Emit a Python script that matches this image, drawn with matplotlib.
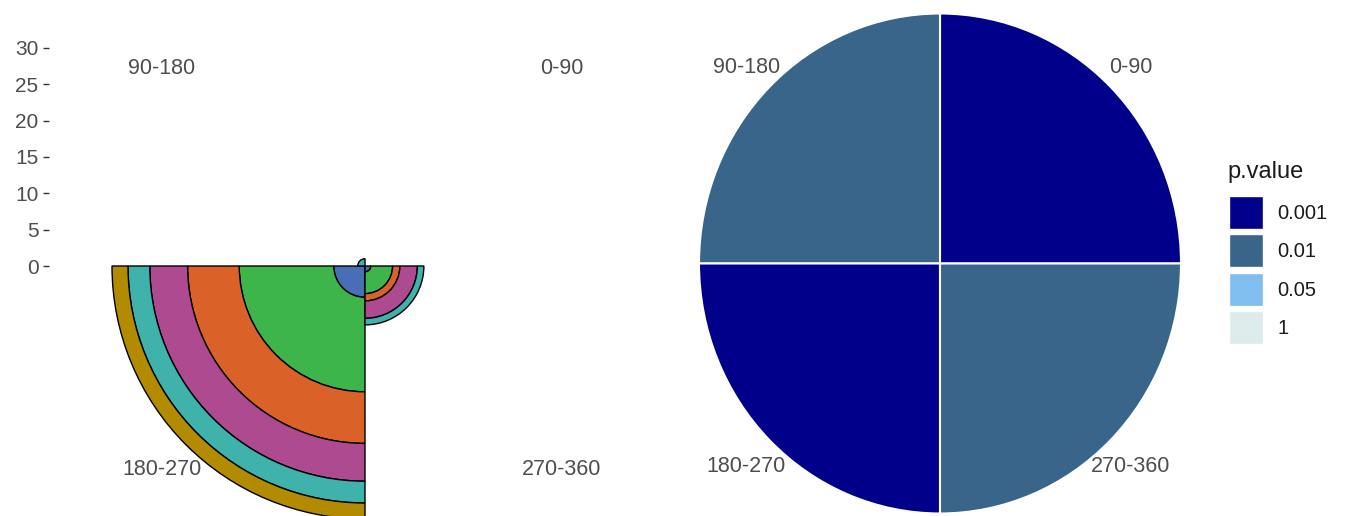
import numpy as np
import matplotlib.pyplot as plt
from matplotlib.patches import Wedge, Rectangle

plt.rcParams['font.family'] = ['Liberation Sans', 'DejaVu Sans']

# angular bins (counter-clockwise from east)
sectors = ["0-90", "90-180", "180-270", "270-360"]

# stacked radial counts per sector, innermost layer first
blue = [0, 0, 4.3, 0.8]
green = [0, 0, 13.0, 3.0]
orange = [0, 0, 7.1, 1.0]
magenta = [0, 0, 5.2, 2.4]
teal = [0, 1.0, 3.0, 0.9]
gold = [0, 0, 2.2, 0]
layers = [blue, green, orange, magenta, teal, gold]
layer_colors = ['#4A6EB5', '#3DB54A', '#DA6229', '#AE4A8F', '#3FB2AC', '#B38B00']

# significance class of each sector
sector_pvalue = ["0.001", "0.01", "0.001", "0.01"]
pvalue_levels = ["0.001", "0.01", "0.05", "1"]
pvalue_colors = ['#00008B', '#386589', '#7FBEEE', '#DEEBEB']

W, H = 1349, 516
TEXT = '#4D4D4D'


def add_px_axes(fig, x0, x1, y0, y1):
    # pixel box measured from the top-left corner
    return fig.add_axes([x0 / W, 1 - y1 / H, (x1 - x0) / W, (y1 - y0) / H])


fig = plt.figure(figsize=(W / 100, H / 100), dpi=100)

# ---- left: stacked polar bars ----
ax = add_px_axes(fig, 49, 681, 0, 516)
scale = 7.27  # px per count
cx, cy = 365, 266
ax.set_xlim((49 - cx) / scale, (681 - cx) / scale)
ax.set_ylim(-(H - cy) / scale, cy / scale)

bottom = np.zeros(len(sectors))
for vals, col in zip(layers, layer_colors):
    vals = np.array(vals, dtype=float)
    for i, v in enumerate(vals):
        if v <= 0:
            continue
        top = bottom[i] + v
        ax.add_patch(Wedge((0, 0), top, 90 * i, 90 * (i + 1), width=v,
                           facecolor=col, edgecolor='black', linewidth=1.0))
    bottom += vals

ax.set_yticks(range(0, 31, 5))
ax.set_xticks([])
for s in ax.spines.values():
    s.set_visible(False)
ax.tick_params(axis='y', length=4.5, width=1.0, color='#333333',
               labelcolor=TEXT, labelsize=15, pad=3)

r_lab = 283 / scale
for i, lab in enumerate(sectors):
    a = np.deg2rad(45 + 90 * i)
    ax.text(r_lab * np.cos(a) - 0.45, r_lab * np.sin(a) - 0.4, lab,
            ha='center', va='center', fontsize=15.5, color=TEXT, clip_on=False)

# ---- right: sectors coloured by p-value ----
ax2 = add_px_axes(fig, 690, 1190, 0, 516)
sx, sy = 241, 250
px, py = 940, 263.5
ax2.set_xlim((690 - px) / sx, (1190 - px) / sx)
ax2.set_ylim(-(H - py) / sy, py / sy)
ax2.axis('off')

pcol = dict(zip(pvalue_levels, pvalue_colors))
for i, p in enumerate(sector_pvalue):
    ax2.add_patch(Wedge((0, 0), 1.0, 90 * i, 90 * (i + 1),
                        facecolor=pcol[p], edgecolor='white', linewidth=1.5))

for i, lab in enumerate(sectors):
    a = np.deg2rad(45 + 90 * i)
    ax2.text(1.128 * np.cos(a) - 0.006, 1.128 * np.sin(a) - 0.014, lab,
             ha='center', va='center', fontsize=15.5, color=TEXT, clip_on=False)

# ---- legend, laid out in pixel space ----
lg = add_px_axes(fig, 1200, W, 0, H)
lg.set_xlim(1200, W)
lg.set_ylim(H, 0)
lg.axis('off')
lg.text(1227, 172, 'p.value', fontsize=17, color='#1A1A1A', ha='left', va='center')
key_top, key_w, key_h, key_step = 196, 34, 33, 38.3
for k, (lab, col) in enumerate(zip(pvalue_levels, pvalue_colors)):
    y0 = key_top + k * key_step
    lg.add_patch(Rectangle((1229, y0), key_w, key_h, facecolor=col,
                           edgecolor='white', linewidth=1.0))
    lg.text(1277, y0 + key_h / 2 + 1, lab, fontsize=14.5, color='#1A1A1A',
            ha='left', va='center')

fig.savefig('out.png', dpi=100)
